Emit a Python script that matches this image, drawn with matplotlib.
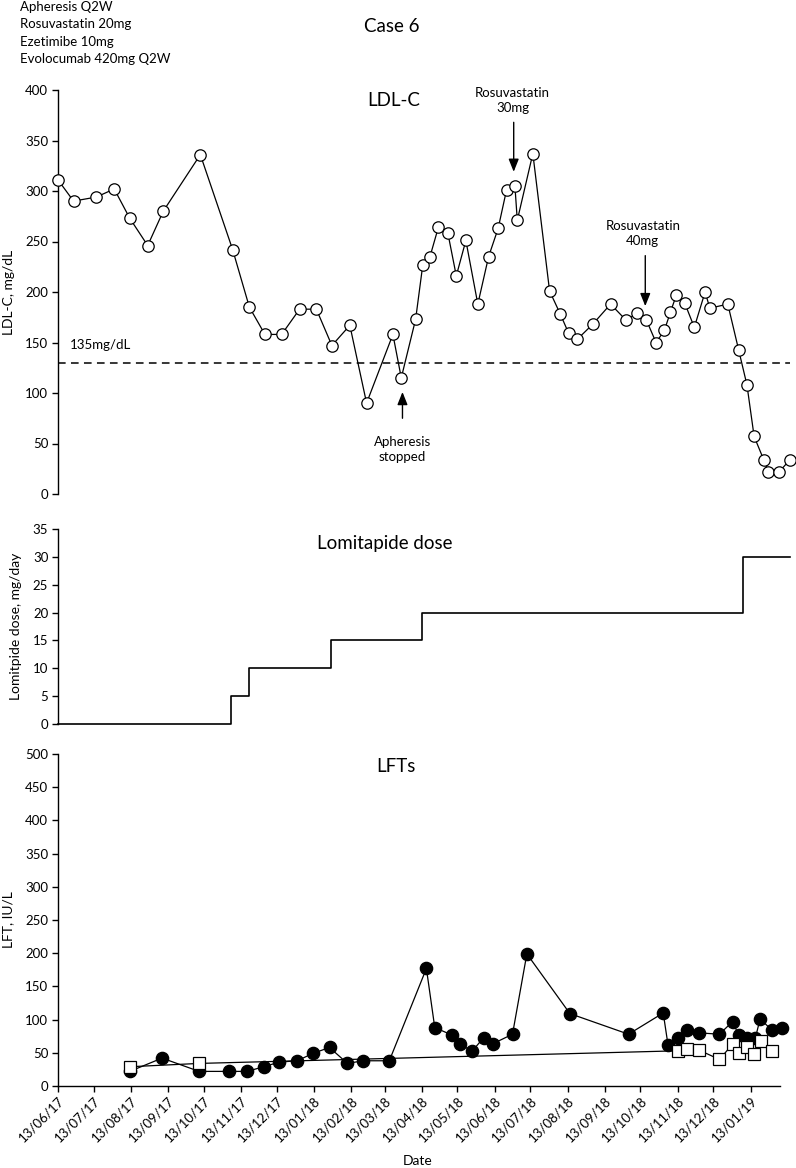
import matplotlib
matplotlib.use("Agg")
import matplotlib.pyplot as plt
import matplotlib.dates as mdates
import pandas as pd

plt.rcParams['font.family'] = ['Lato', 'DejaVu Sans']

# ---------------- data ----------------
ldl_dates = ["2017-06-13", "2017-06-26", "2017-07-15", "2017-07-30", "2017-08-12", "2017-08-27",
             "2017-09-09", "2017-10-10", "2017-11-06", "2017-11-20", "2017-12-03", "2017-12-17",
             "2018-01-01", "2018-01-15", "2018-01-28", "2018-02-12", "2018-02-26", "2018-03-20",
             "2018-03-27", "2018-04-08", "2018-04-14", "2018-04-20", "2018-04-27", "2018-05-05",
             "2018-05-12", "2018-05-20", "2018-05-30", "2018-06-08", "2018-06-16", "2018-06-23",
             "2018-06-30", "2018-07-02", "2018-07-15", "2018-07-29", "2018-08-07", "2018-08-14",
             "2018-08-21", "2018-09-03", "2018-09-18", "2018-10-01", "2018-10-10", "2018-10-18",
             "2018-10-26", "2018-11-02", "2018-11-07", "2018-11-12", "2018-11-19", "2018-11-27",
             "2018-12-06", "2018-12-10", "2018-12-25", "2019-01-03", "2019-01-10", "2019-01-16",
             "2019-01-24", "2019-01-28", "2019-02-06", "2019-02-15"]
ldl_values = [311, 290, 294, 302, 273, 246, 280, 336, 242, 185, 158, 158,
              183, 183, 147, 167, 90, 158, 115, 173, 227, 235, 264, 258,
              216, 251, 188, 235, 263, 301, 305, 271, 337, 201, 178, 159,
              153, 168, 188, 172, 179, 172, 150, 162, 180, 197, 189, 165,
              200, 184, 188, 143, 108, 57, 34, 22, 22, 34]

lomi_dates = ["2017-06-13", "2017-11-05", "2017-11-20", "2018-01-27", "2018-04-13",
              "2019-01-07", "2019-02-15"]
lomi_doses = [0, 5, 10, 15, 20, 30, 30]

lft_circle_dates = ["2017-08-12", "2017-09-08", "2017-10-09", "2017-11-03", "2017-11-18",
                    "2017-12-02", "2017-12-15", "2017-12-30", "2018-01-12", "2018-01-26",
                    "2018-02-10", "2018-02-23", "2018-03-17", "2018-04-17", "2018-04-24",
                    "2018-05-08", "2018-05-15", "2018-05-25", "2018-06-04", "2018-06-12",
                    "2018-06-28", "2018-07-10", "2018-08-15", "2018-10-03", "2018-11-01",
                    "2018-11-05", "2018-11-13", "2018-11-21", "2018-12-01", "2018-12-18",
                    "2018-12-29", "2019-01-03", "2019-01-10", "2019-01-17", "2019-01-21",
                    "2019-01-31", "2019-02-08"]
lft_circle_values = [22, 42, 22, 22, 22, 29, 36, 38, 49, 58, 34, 38, 38, 177, 88,
                     77, 64, 52, 73, 64, 78, 199, 109, 78, 110, 62, 72, 84, 80, 78,
                     97, 77, 72, 72, 101, 84, 88]

lft_square_dates = ["2017-08-12", "2017-10-09", "2018-11-13", "2018-11-21", "2018-12-01",
                    "2018-12-18", "2018-12-29", "2019-01-03", "2019-01-10", "2019-01-16",
                    "2019-01-22", "2019-01-31"]
lft_square_values = [29, 34, 53, 55, 54, 40, 63, 50, 58, 48, 68, 53]

threshold = 130
month_ticks = pd.date_range("2017-06-01", "2019-01-01", freq="MS") + pd.Timedelta(days=12)

# ---------------- figure ----------------
W, H = 796, 1168
fig = plt.figure(figsize=(W / 100, H / 100), dpi=100)

def ax_rect(x0, x1, ytop, ybot):
    return [x0 / W, 1 - ybot / H, (x1 - x0) / W, (ybot - ytop) / H]

xmin = pd.Timestamp("2017-06-13")
xmax = pd.Timestamp("2019-02-15")
lft_end = pd.Timestamp("2019-02-07")

ax1 = fig.add_axes(ax_rect(58, 790, 90, 494))
ax2 = fig.add_axes(ax_rect(58, 790, 529, 724))
ax3 = fig.add_axes(ax_rect(58, 790, 754, 1086))

tick_fs = 9.5
for ax in (ax1, ax2, ax3):
    ax.set_xlim(xmin, xmax)
    for s in ("top", "right"):
        ax.spines[s].set_visible(False)
    ax.spines["left"].set_linewidth(1.0)
    ax.tick_params(axis="y", direction="out", length=4, width=1.0, labelsize=tick_fs, pad=3)
    ax.patch.set_alpha(0)

# LDL panel
ldl_x = pd.to_datetime(ldl_dates)
ax1.plot(ldl_x, ldl_values, color="black", lw=0.9, marker="o", ms=8.2,
         mfc="white", mec="black", mew=0.9, zorder=3, clip_on=False)
ax1.axhline(threshold, color="black", lw=1.1, ls=(0, (5, 3.5)), zorder=2)
ax1.set_ylim(0, 400)
ax1.set_yticks(range(0, 401, 50))
ax1.spines["bottom"].set_visible(False)
ax1.set_xticks([])
ax1.text(pd.Timestamp("2017-06-23"), 148, "135mg/dL", fontsize=9.5, ha="left", va="center")

arrow_kw = dict(arrowstyle="-|>,head_length=0.55,head_width=0.22", color="black", lw=1.0,
                mutation_scale=14, shrinkA=0, shrinkB=0)
ax1.annotate("", xy=(pd.Timestamp("2018-06-29"), 319), xytext=(pd.Timestamp("2018-06-29"), 368),
             arrowprops=arrow_kw)
ax1.text(pd.Timestamp("2018-06-28"), 390, "Rosuvastatin\n30mg", ha="center", va="center",
         fontsize=9.5, linespacing=1.3)
ax1.annotate("", xy=(pd.Timestamp("2018-10-17"), 186), xytext=(pd.Timestamp("2018-10-17"), 236),
             arrowprops=arrow_kw)
ax1.text(pd.Timestamp("2018-10-15"), 258, "Rosuvastatin\n40mg", ha="center", va="center",
         fontsize=9.5, linespacing=1.3)
ax1.annotate("", xy=(pd.Timestamp("2018-03-28"), 101), xytext=(pd.Timestamp("2018-03-28"), 75),
             arrowprops=arrow_kw)
ax1.text(pd.Timestamp("2018-03-28"), 44, "Apheresis\nstopped", ha="center", va="center",
         fontsize=9.5, linespacing=1.3)

# Lomitapide panel
ax2.plot(pd.to_datetime(lomi_dates), lomi_doses, color="black", lw=1.2,
         drawstyle="steps-post", zorder=3, clip_on=False)
ax2.set_ylim(0, 35)
ax2.set_yticks(range(0, 36, 5))
ax2.spines["bottom"].set_visible(False)
ax2.set_xticks([])

# LFT panel
ax3.plot(pd.to_datetime(lft_circle_dates), lft_circle_values, color="black", lw=0.9,
         marker="o", ms=8.8, mfc="black", mec="black", zorder=3, clip_on=False)
ax3.plot(pd.to_datetime(lft_square_dates), lft_square_values, color="black", lw=0.9,
         marker="s", ms=8.2, mfc="white", mec="black", mew=0.9, zorder=4, clip_on=False)
ax3.set_ylim(0, 500)
ax3.set_yticks(range(0, 501, 50))
ax3.spines["bottom"].set_bounds(mdates.date2num(xmin), mdates.date2num(lft_end))
ax3.spines["bottom"].set_linewidth(1.0)
ax3.set_xticks(month_ticks)
ax3.xaxis.set_major_formatter(mdates.DateFormatter("%d/%m/%y"))
ax3.tick_params(axis="x", direction="out", length=4, width=1.0, labelsize=tick_fs, pad=2)
for lab in ax3.get_xticklabels():
    lab.set_rotation(45)
    lab.set_ha("right")
    lab.set_rotation_mode("anchor")

# Figure texts
fig.text(392 / W, 1 - 27 / H, "Case 6", ha="center", va="center", fontsize=13.5)
fig.text(394 / W, 1 - 101 / H, "LDL-C", ha="center", va="center", fontsize=13.5)
fig.text(385 / W, 1 - 544 / H, "Lomitapide dose", ha="center", va="center", fontsize=13.5)
fig.text(396 / W, 1 - 767 / H, "LFTs", ha="center", va="center", fontsize=13.5)

for i, line in enumerate(["Apheresis Q2W", "Rosuvastatin 20mg", "Ezetimibe 10mg",
                          "Evolocumab 420mg Q2W"]):
    fig.text(20 / W, 1 - (7 + 17.3 * i) / H, line, ha="left", va="center", fontsize=9.5)

fig.text(9 / W, 1 - 292 / H, "LDL-C, mg/dL", rotation=90, ha="center", va="center", fontsize=10)
fig.text(16 / W, 1 - 626 / H, "Lomitpide dose, mg/day", rotation=90, ha="center", va="center",
         fontsize=10)
fig.text(8 / W, 1 - 920 / H, "LFT, IU/L", rotation=90, ha="center", va="center", fontsize=10)
fig.text(418 / W, 1 - 1161 / H, "Date", ha="center", va="center", fontsize=10)

fig.savefig("out.png", dpi=100)
